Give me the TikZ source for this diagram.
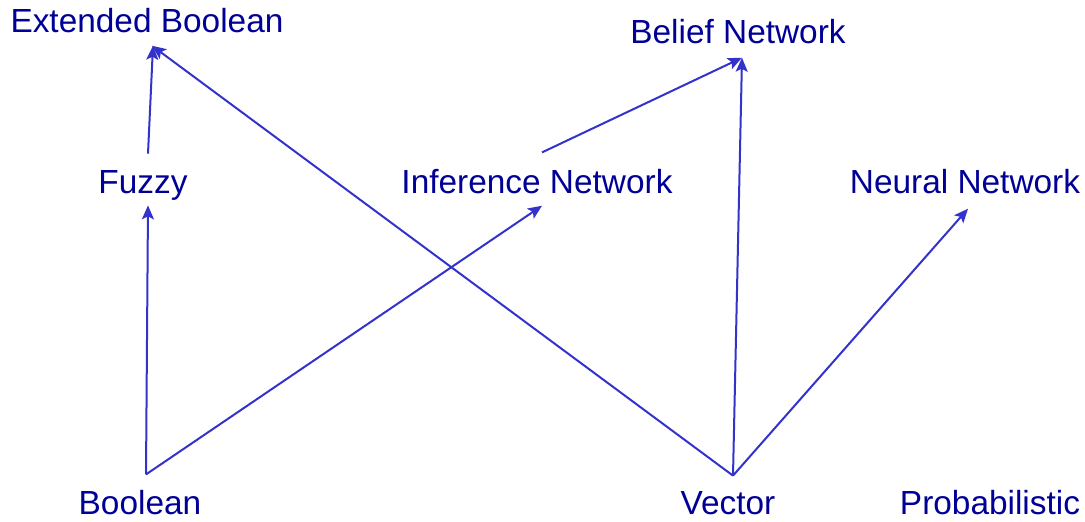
\documentclass[tikz,border=0pt]{standalone}
\usepackage{fontspec}
\setmainfont{Liberation Sans}
\usetikzlibrary{arrows.meta}
\definecolor{modelblue}{RGB}{0,0,150}
\definecolor{linkblue}{RGB}{51,51,204}
\tikzset{
  model/.style={text=modelblue, font=\fontsize{16.7}{20}\selectfont, inner sep=0pt, anchor=base},
  link/.style={linkblue, line width=1pt, -{Stealth[length=7pt,width=6pt,inset=1.5pt]}}
}
\begin{document}
\begin{tikzpicture}[x=0.5pt, y=-0.5pt]
  \useasboundingbox (0,0) rectangle (1085,521);
  % Models, placed at their baselines
  \node[model] (ext) at (147,32) {Extended Boolean};
  \node[model] (belief) at (738,43) {Belief Network};
  \node[model] (fuzzy) at (143,193) {Fuzzy};
  \node[model] (inf) at (537,193) {Inference Network};
  \node[model] (neural) at (965,193) {Neural Network};
  \node[model] (bool) at (140,514) {Boolean};
  \node[model] (vec) at (728,514) {Vector};
  \node[model] (prob) at (990,514) {Probabilistic};

  % Links between the models
  \draw[link] ([xshift=2.5pt,yshift=8pt]fuzzy.north) -- ([xshift=3pt,yshift=-6.5pt]ext.south);
  \draw[link] ([xshift=2.5pt,yshift=7.5pt]vec.north) -- ([xshift=2.5pt,yshift=-6.5pt]ext.south);
  \draw[link] ([xshift=3pt,yshift=7.5pt]bool.north) -- ([xshift=2.5pt,yshift=-2.5pt]fuzzy.south);
  \draw[link] ([xshift=3pt,yshift=7.5pt]bool.north) -- ([xshift=2.5pt,yshift=-6pt]inf.south);
  \draw[link] ([xshift=2.5pt,yshift=8pt]inf.north) -- ([xshift=2pt,yshift=-7pt]belief.south);
  \draw[link] ([xshift=2.5pt,yshift=7.5pt]vec.north) -- ([xshift=2pt,yshift=-7pt]belief.south);
  \draw[link] ([xshift=2.5pt,yshift=7.5pt]vec.north) -- ([xshift=1.5pt,yshift=-7.5pt]neural.south);
\end{tikzpicture}
\end{document}
